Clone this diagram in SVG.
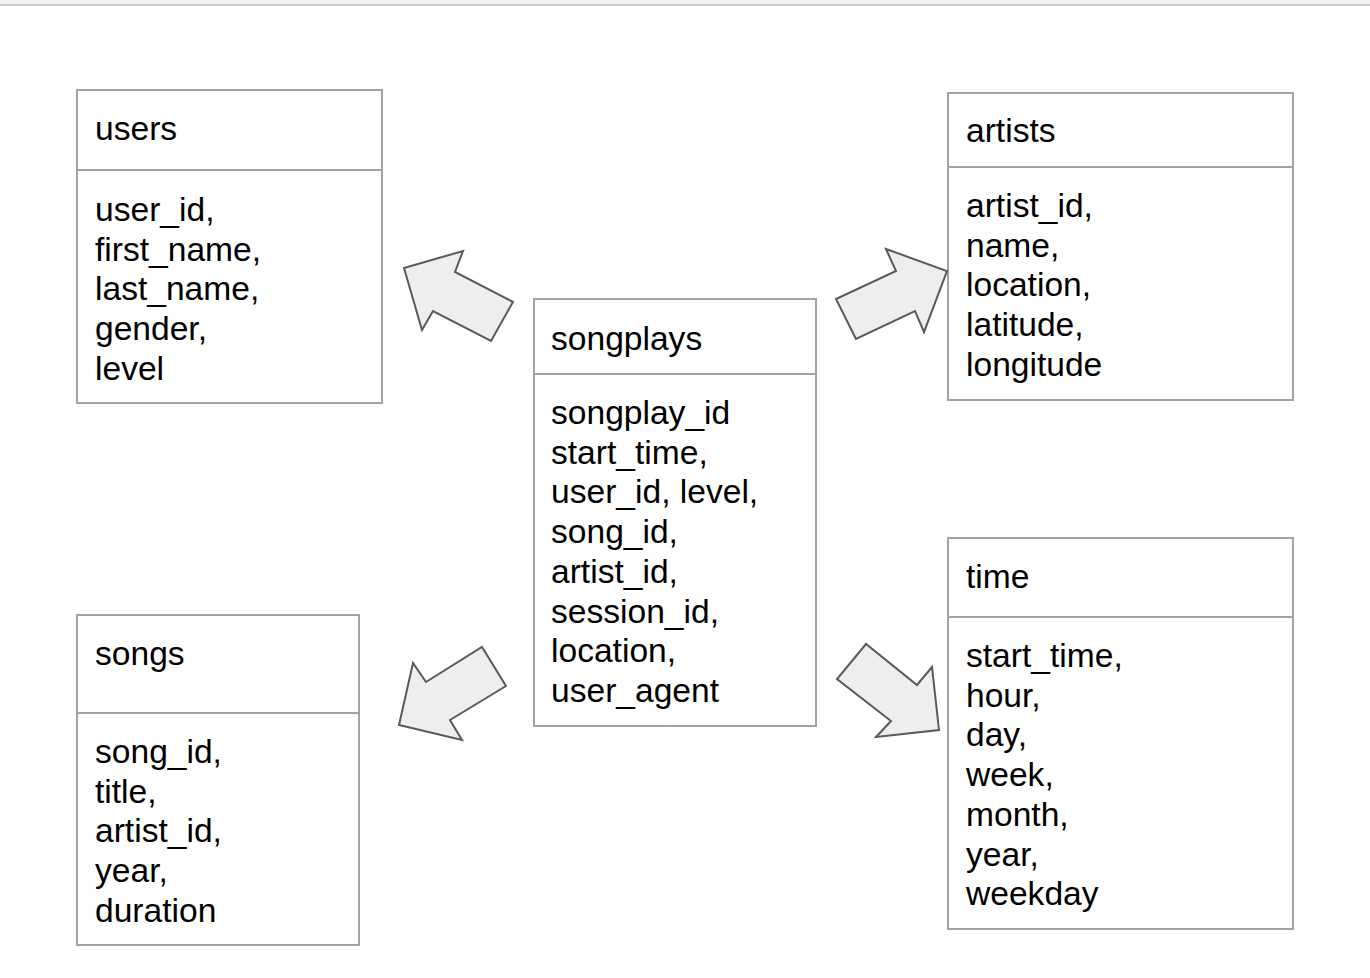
<svg xmlns="http://www.w3.org/2000/svg" width="1370" height="978" viewBox="0 0 1370 978">
<style>
.box{fill:#ffffff;stroke:#a3a3a3;stroke-width:2}
.div{stroke:#a3a3a3;stroke-width:2}
.t{font-family:"Liberation Sans",Arial,sans-serif;font-size:33.6px;fill:#000000}
.arr{fill:#eeeeee;stroke:#5a5a5a;stroke-width:2;stroke-linejoin:miter}
</style>
<rect x="0" y="0" width="1370" height="978" fill="#ffffff"/>
<rect x="0" y="0" width="1370" height="4" fill="#f3f3f3"/>
<rect x="0" y="4" width="1370" height="2" fill="#c9c9c9"/>

<g id="users">
<rect class="box" x="77" y="90" width="305" height="313"/>
<line class="div" x1="77" y1="170" x2="382" y2="170"/>
<text class="t" x="95" y="140">users</text>
<text class="t" x="95" y="221">user_id,</text>
<text class="t" x="95" y="260.7">first_name,</text>
<text class="t" x="95" y="300.4">last_name,</text>
<text class="t" x="95" y="340.1">gender,</text>
<text class="t" x="95" y="379.8">level</text>
</g>

<g id="artists">
<rect class="box" x="948" y="93" width="345" height="307"/>
<line class="div" x1="948" y1="167" x2="1293" y2="167"/>
<text class="t" x="966" y="142">artists</text>
<text class="t" x="966" y="217">artist_id,</text>
<text class="t" x="966" y="256.7">name,</text>
<text class="t" x="966" y="296.4">location,</text>
<text class="t" x="966" y="336.1">latitude,</text>
<text class="t" x="966" y="375.8">longitude</text>
</g>

<g id="songplays">
<rect class="box" x="534" y="299" width="282" height="427"/>
<line class="div" x1="534" y1="374" x2="816" y2="374"/>
<text class="t" x="551" y="350">songplays</text>
<text class="t" x="551" y="424">songplay_id</text>
<text class="t" x="551" y="463.7">start_time,</text>
<text class="t" x="551" y="503.4">user_id, level,</text>
<text class="t" x="551" y="543.1">song_id,</text>
<text class="t" x="551" y="582.8">artist_id,</text>
<text class="t" x="551" y="622.5">session_id,</text>
<text class="t" x="551" y="662.2">location,</text>
<text class="t" x="551" y="701.9">user_agent</text>
</g>

<g id="time">
<rect class="box" x="948" y="538" width="345" height="391"/>
<line class="div" x1="948" y1="617" x2="1293" y2="617"/>
<text class="t" x="966" y="588">time</text>
<text class="t" x="966" y="667">start_time,</text>
<text class="t" x="966" y="706.7">hour,</text>
<text class="t" x="966" y="746.4">day,</text>
<text class="t" x="966" y="786.1">week,</text>
<text class="t" x="966" y="825.8">month,</text>
<text class="t" x="966" y="865.5">year,</text>
<text class="t" x="966" y="905.2">weekday</text>
</g>

<g id="songs">
<rect class="box" x="77" y="615" width="282" height="330"/>
<line class="div" x1="77" y1="713" x2="359" y2="713"/>
<text class="t" x="95" y="665">songs</text>
<text class="t" x="95" y="763">song_id,</text>
<text class="t" x="95" y="802.7">title,</text>
<text class="t" x="95" y="842.4">artist_id,</text>
<text class="t" x="95" y="882.1">year,</text>
<text class="t" x="95" y="921.8">duration</text>
</g>

<g id="connectors">
<polygon class="arr" points="404,268 463,251 455,272 513,302 491,341 433,311 422,330"/>
<polygon class="arr" points="856,339 836,299 896,271 886,249 947,271 924,332 915,311"/>
<polygon class="arr" points="482,647 506,686 450,720 462,740 399,725 413,663 426,682"/>
<polygon class="arr" points="866,644 837,679 891,721 876,737 939,730 932,667 917,685"/>
</g>
</svg>
